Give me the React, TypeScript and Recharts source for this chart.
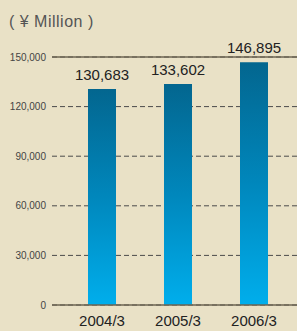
import { BarChart, Bar, XAxis, YAxis, CartesianGrid, ReferenceLine, LabelList } from "recharts";

const years = ["2004/3", "2005/3", "2006/3"];
const sales = [130683, 133602, 146895];
const yTicks = [0, 30000, 60000, 90000, 120000, 150000];

const data = years.map((year, i) => ({ year, sales: sales[i] }));

const font = "'Liberation Sans', Arial, sans-serif";

export default function App() {
  return (
    <div
      style={{
        position: "fixed",
        left: 0,
        top: 0,
        width: 297,
        height: 331,
        background: "#e9e1c6",
        fontFamily: font,
        overflow: "hidden",
      }}
    >
      <div
        style={{
          position: "absolute",
          left: 9,
          top: 13,
          fontSize: 16,
          letterSpacing: 0.5,
          color: "#555",
        }}
      >
        ( ¥ Million )
      </div>
      <BarChart
        width={297}
        height={331}
        data={data}
        margin={{ top: 57, right: 0, bottom: 6, left: 0 }}
      >
        <defs>
          <linearGradient id="barGradient" x1="0" y1="0" x2="0" y2="1">
            <stop offset="0%" stopColor="#03668f" />
            <stop offset="50%" stopColor="#0087bc" />
            <stop offset="100%" stopColor="#00aeec" />
          </linearGradient>
        </defs>
        <CartesianGrid vertical={false} stroke="#4a4a4a" strokeDasharray="5 3" />
        <XAxis
          dataKey="year"
          axisLine={false}
          tickLine={false}
          tickSize={0}
          tickMargin={10}
          height={20}
          padding={{ left: 12, right: 5 }}
          tick={{ fontSize: 15, fill: "#222", fontFamily: font }}
        />
        <YAxis
          domain={[0, 150000]}
          ticks={yTicks}
          width={52}
          axisLine={false}
          tickLine={false}
          tickSize={0}
          tickMargin={6}
          tickFormatter={(v) => Number(v).toLocaleString("en-US")}
          tick={{ fontSize: 10, fill: "#444", fontFamily: font }}
        />
        <Bar dataKey="sales" barSize={28} fill="url(#barGradient)" isAnimationActive={false}>
          <LabelList
            dataKey="sales"
            position="top"
            offset={9}
            formatter={(v: any) => Number(v).toLocaleString("en-US")}
            style={{ fontSize: 15, fill: "#222", fontFamily: font }}
          />
        </Bar>
        <ReferenceLine y={150000} stroke="#6d6552" strokeWidth={1.5} />
        <ReferenceLine y={0} stroke="#6d6552" strokeWidth={1.5} />
      </BarChart>
    </div>
  );
}
